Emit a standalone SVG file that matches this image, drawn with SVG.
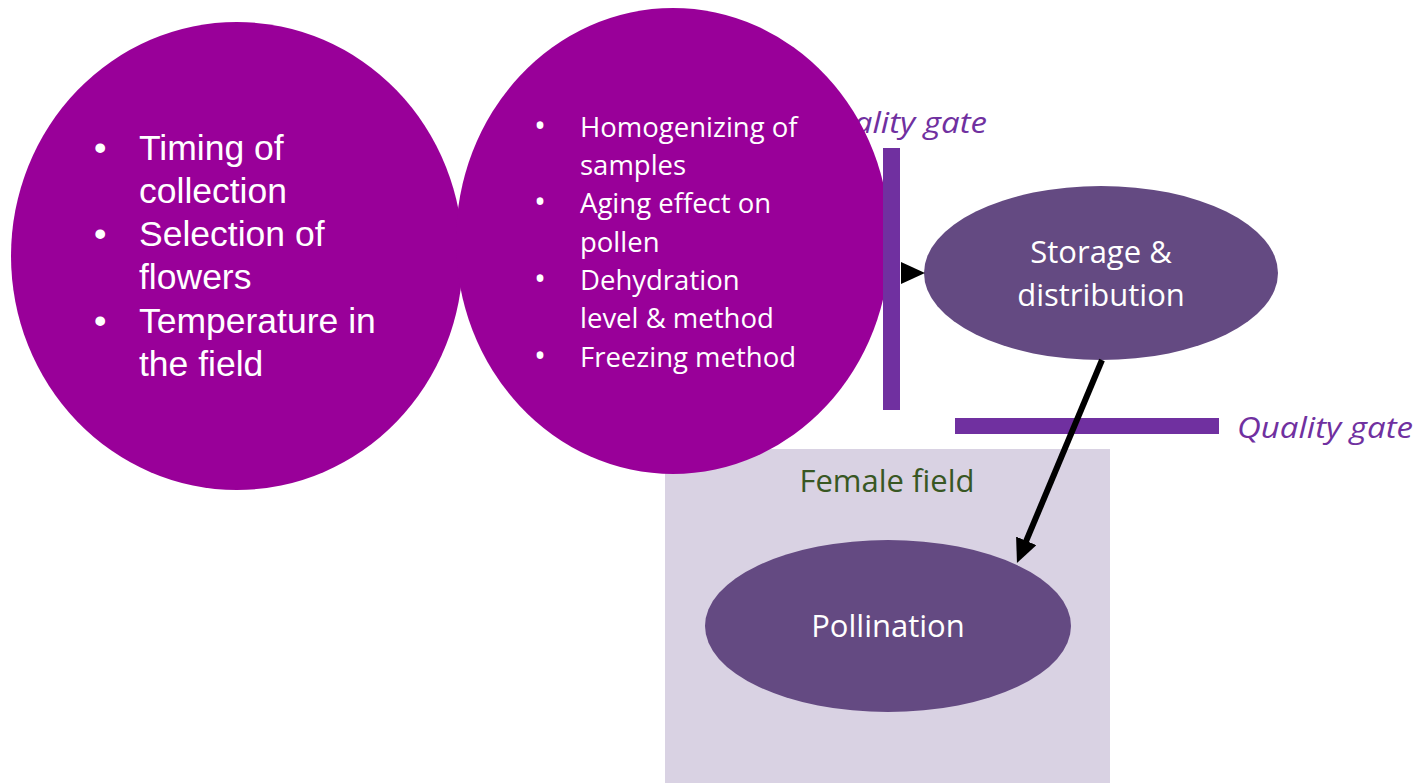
<svg xmlns="http://www.w3.org/2000/svg" width="1426" height="783" viewBox="0 0 1426 783">
<defs>
<style>
.big{fill:#990099}
.node{fill:#644A82}
.bar{fill:#7030A0}
.gate{font-family:"Open Sans",sans-serif;font-style:italic;font-size:30px;fill:#7030A0}
.arial{font-family:"Liberation Sans",Arial,sans-serif;font-size:35.5px;fill:#ffffff}
.cal{font-family:"Open Sans",sans-serif;font-size:27.5px;fill:#ffffff}
.bul{font-size:32px}
.lbl{font-family:"Open Sans",sans-serif;font-size:31px;fill:#ffffff;text-anchor:middle}
.conn{stroke:#000;stroke-width:6;fill:none}
</style>
<marker id="ah" markerUnits="userSpaceOnUse" markerWidth="24" markerHeight="22" refX="12" refY="11" orient="auto">
<path d="M0,0 L24,11 L0,22 Z" fill="#000"/>
</marker>
</defs>
<rect width="1426" height="783" fill="#ffffff"/>
<g id="female-field">
<rect x="665" y="449" width="445" height="334" fill="#D9D2E3"/>
<text x="887" y="492" font-family="Open Sans, sans-serif" font-size="31" fill="#385723" text-anchor="middle">Female field</text>
</g>
<g id="gate-top-label">
<text class="gate" x="811" y="133" textLength="176" lengthAdjust="spacingAndGlyphs">Quality gate</text>
</g>
<g id="collection">
<ellipse class="big" cx="237" cy="256" rx="226" ry="234"/>
<g class="arial">
<text x="94" y="160">•</text><text x="139" y="160">Timing of</text>
<text x="139" y="203">collection</text>
<text x="94" y="246">•</text><text x="139" y="246">Selection of</text>
<text x="139" y="289">flowers</text>
<text x="94" y="333">•</text><text x="139" y="333">Temperature in</text>
<text x="139" y="376">the field</text>
</g>
</g>
<g id="processing">
<ellipse class="big" cx="673" cy="241" rx="217" ry="233"/>
<g class="cal">
<text class="bul" x="534" y="137">•</text><text x="580" y="137">Homogenizing of</text>
<text x="580" y="175">samples</text>
<text class="bul" x="534" y="213">•</text><text x="580" y="213">Aging effect on</text>
<text x="580" y="252">pollen</text>
<text class="bul" x="534" y="290">•</text><text x="580" y="290">Dehydration</text>
<text x="580" y="328">level &amp; method</text>
<text class="bul" x="534" y="367">•</text><text x="580" y="367">Freezing method</text>
</g>
</g>
<g id="gate-vertical">
<rect class="bar" x="883" y="148" width="17" height="262"/>
</g>
<g id="storage">
<ellipse class="node" cx="1101" cy="273" rx="177" ry="87"/>
<text class="lbl" x="1101" y="263">Storage &amp;</text>
<text class="lbl" x="1101" y="306">distribution</text>
</g>
<g id="gate-horizontal">
<rect class="bar" x="955" y="418" width="264" height="16"/>
<text class="gate" x="1237" y="438" textLength="176" lengthAdjust="spacingAndGlyphs">Quality gate</text>
</g>
<g id="pollination">
<ellipse class="node" cx="888" cy="626" rx="183" ry="86"/>
<text class="lbl" x="888" y="637">Pollination</text>
</g>
<g id="connectors">
<line class="conn" x1="901" y1="273" x2="913" y2="273" marker-end="url(#ah)"/>
<line class="conn" x1="1102" y1="360" x2="1021.6" y2="551.9" marker-end="url(#ah)"/>
</g>
</svg>
